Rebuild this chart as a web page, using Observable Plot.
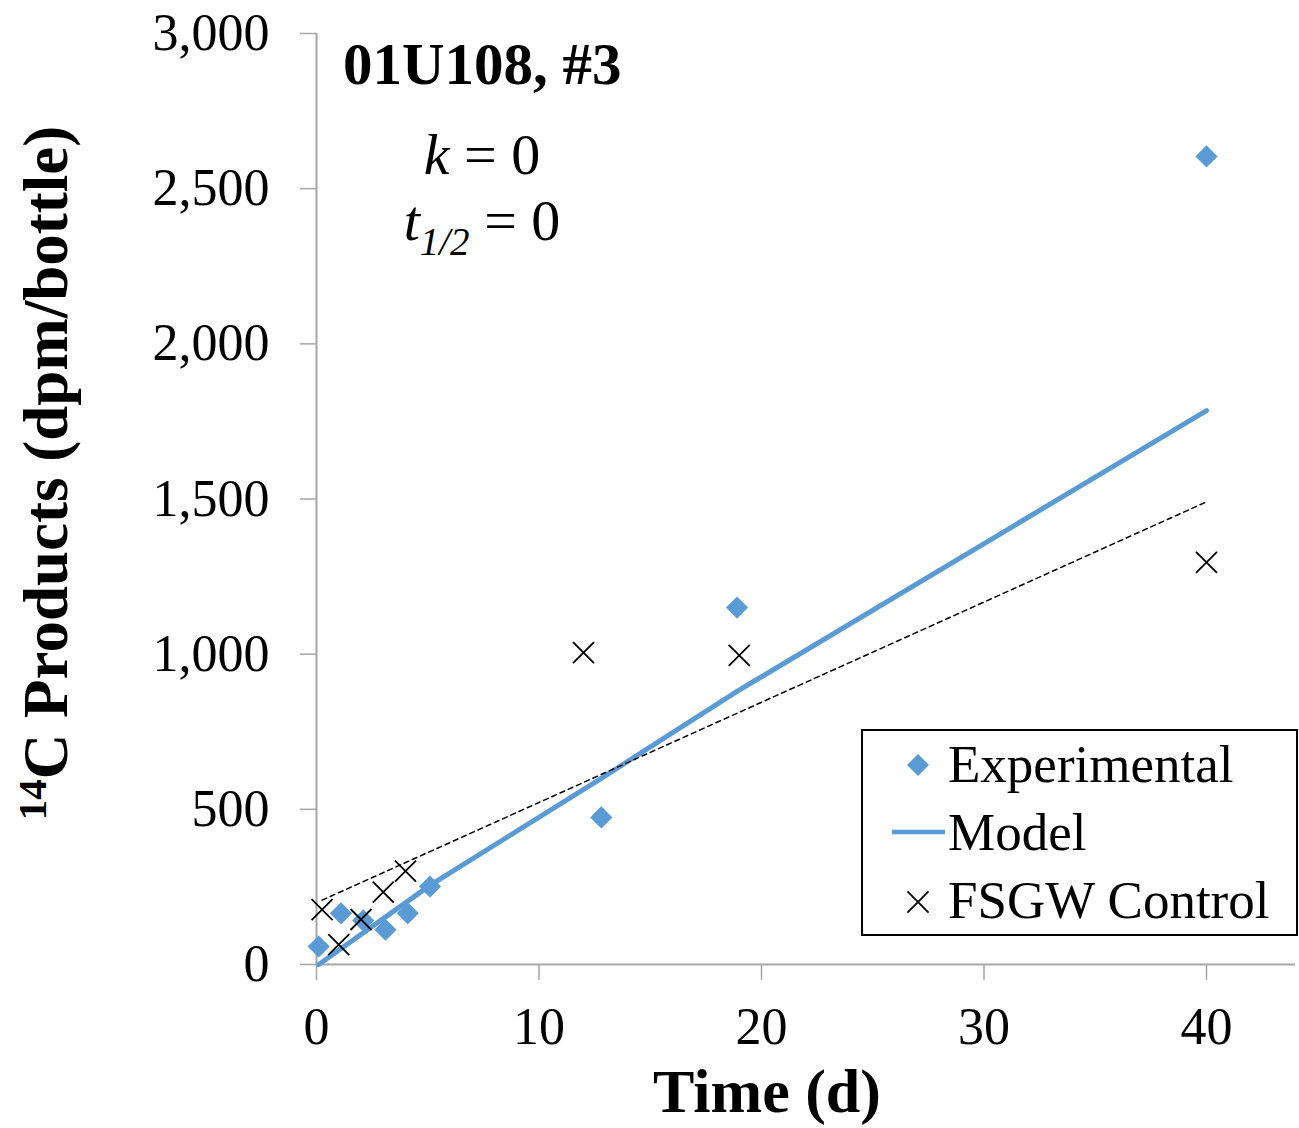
<!DOCTYPE html>
<html>
<head>
<meta charset="utf-8">
<script src="https://cdn.jsdelivr.net/npm/d3@7"></script>
<script src="https://cdn.jsdelivr.net/npm/@observablehq/plot@0.6"></script>
<style>
  html, body { margin: 0; padding: 0; background: #fff; }
  svg { display: block; }
</style>
</head>
<body>
<div id="chart"></div>
<script>
// Experimental bottles: time (d) and 14C products (dpm/bottle)
const expTime  = [0.1, 1.1, 2.1, 3.1, 4.1, 5.1, 12.8, 18.9, 40];
const expValue = [58, 165, 142, 112, 165, 251, 474, 1150, 2604];

// Zero-order model curve
const modelTime  = [0.1, 5.1, 12.8, 18.9, 40];
const modelValue = [0, 255, 600, 880, 1785];

// Filter-sterilized groundwater controls
const ctrlTime  = [0.25, 1, 2, 3, 4, 12, 19, 40];
const ctrlValue = [177, 64, 145, 233, 301, 1005, 996, 1296];

const xTicks = [0, 10, 20, 30, 40];
const yTicks = [0, 500, 1000, 1500, 2000, 2500, 3000];

const W = 1299, H = 1128;
const blue = "#5b9bd5";
const axisGray = "#a6a6a6";
const serif = "'Liberation Serif', 'Times New Roman', serif";

const rows = (ts, vs) => ts.map((t, i) => ({t, v: vs[i]}));
const expData = rows(expTime, expValue);
const modelData = rows(modelTime, modelValue);
const ctrlData = rows(ctrlTime, ctrlValue);

const chart = Plot.plot({
  width: W,
  height: H,
  marginLeft: 316,
  marginRight: 4,
  marginTop: 33,
  marginBottom: 164,
  style: {fontFamily: serif, background: "white", color: "black"},
  x: {domain: [0, 44]},
  y: {domain: [0, 3000]},
  marks: [
    Plot.axisY({ticks: yTicks, tickFormat: d3.format(","), tickSize: 16, tickPadding: 31,
                fontSize: 52, stroke: axisGray, strokeWidth: 1.5, fill: "black", label: null}),
    Plot.axisX({ticks: xTicks, tickSize: 16, tickPadding: 27,
                fontSize: 52, stroke: axisGray, strokeWidth: 1.5, fill: "black", label: null}),
    Plot.ruleX([0], {stroke: axisGray, strokeWidth: 2}),
    Plot.ruleY([0], {stroke: axisGray, strokeWidth: 2}),
    Plot.dot(expData, {x: "t", y: "v", symbol: "diamond2", r: 10, fill: blue}),
    Plot.line(modelData, {x: "t", y: "v", stroke: blue, strokeWidth: 5, strokeLinecap: "round"}),
    Plot.dot(ctrlData, {x: "t", y: "v", symbol: "times", r: 9.6, stroke: "black", strokeWidth: 1.8}),
    Plot.linearRegressionY(ctrlData, {x: "t", y: "v", ci: 0, stroke: "black",
                                      strokeWidth: 1.5, strokeDasharray: "5,4"})
  ]
});

document.getElementById("chart").appendChild(chart);

const svg = d3.select(chart);

// Axis titles
const yTitle = svg.append("text")
  .attr("transform", "translate(67,473) rotate(-90)")
  .attr("text-anchor", "middle")
  .attr("font-family", serif)
  .attr("font-weight", "bold")
  .attr("font-size", 63)
  .attr("fill", "black");
yTitle.append("tspan").attr("font-size", 41).attr("dy", -21).text("14");
yTitle.append("tspan").attr("dy", 21).text("C Products (dpm/bottle)");

svg.append("text")
  .attr("x", 767).attr("y", 1112)
  .attr("text-anchor", "middle")
  .attr("font-family", serif)
  .attr("font-weight", "bold")
  .attr("font-size", 62)
  .attr("fill", "black")
  .text("Time (d)");

// Bottle label and fitted rate constants
svg.append("text")
  .attr("x", 343).attr("y", 84)
  .attr("text-anchor", "start")
  .attr("font-family", serif)
  .attr("font-weight", "bold")
  .attr("font-size", 59)
  .attr("fill", "black")
  .text("01U108, #3");

const kText = svg.append("text")
  .attr("x", 482).attr("y", 174)
  .attr("text-anchor", "middle")
  .attr("font-family", serif)
  .attr("font-size", 58)
  .attr("fill", "black");
kText.append("tspan").attr("font-style", "italic").text("k");
kText.append("tspan").text(" = 0");

const tText = svg.append("text")
  .attr("x", 482).attr("y", 240)
  .attr("text-anchor", "middle")
  .attr("font-family", serif)
  .attr("font-size", 58)
  .attr("fill", "black");
tText.append("tspan").attr("font-style", "italic").text("t");
tText.append("tspan").attr("font-style", "italic").attr("font-size", 39).attr("dy", 15).text("1/2");
tText.append("tspan").attr("dy", -15).text(" = 0");

// Legend
const lg = svg.append("g")
  .attr("font-family", serif)
  .attr("font-size", 53)
  .attr("text-anchor", "start")
  .attr("fill", "black");
lg.append("rect")
  .attr("x", 862).attr("y", 730).attr("width", 435).attr("height", 205)
  .attr("fill", "white").attr("stroke", "black").attr("stroke-width", 2);
lg.append("path")
  .attr("transform", "translate(918,765)")
  .attr("d", d3.symbol(d3.symbolDiamond2, 308)())
  .attr("fill", blue);
lg.append("line")
  .attr("x1", 892).attr("x2", 945).attr("y1", 832).attr("y2", 832)
  .attr("stroke", blue).attr("stroke-width", 4.5);
lg.append("path")
  .attr("transform", "translate(918,902)")
  .attr("d", d3.symbol(d3.symbolTimes, 291)())
  .attr("fill", "none").attr("stroke", "black").attr("stroke-width", 1.8);
lg.append("text").attr("x", 948).attr("y", 782).text("Experimental");
lg.append("text").attr("x", 948).attr("y", 850).text("Model");
lg.append("text").attr("x", 948).attr("y", 918).text("FSGW Control");
</script>
</body>
</html>
